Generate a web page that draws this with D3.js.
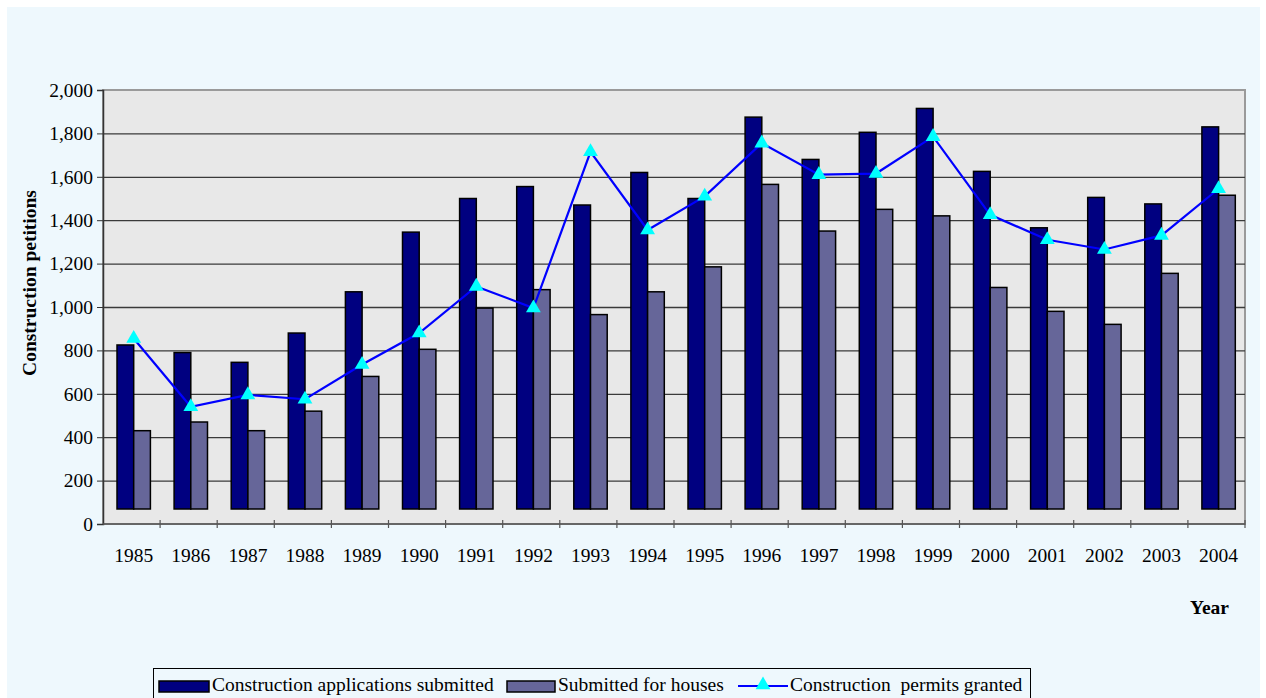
<!DOCTYPE html>
<html>
<head>
<meta charset="utf-8">
<script src="https://cdn.jsdelivr.net/npm/d3@7"></script>
<style>
  html, body { margin: 0; padding: 0; background: #ffffff; }
  svg { display: block; }
  text { font-family: "Liberation Serif", "Times New Roman", serif; fill: #000; }
</style>
</head>
<body>
<svg id="chart" width="1266" height="698"></svg>
<script>
const years = ["1985","1986","1987","1988","1989","1990","1991","1992","1993","1994",
               "1995","1996","1997","1998","1999","2000","2001","2002","2003","2004"];
const applicationsSubmitted = [825, 790, 745, 880, 1070, 1345, 1500, 1555, 1470, 1620,
                               1500, 1875, 1680, 1805, 1915, 1625, 1365, 1505, 1475, 1830];
const submittedForHouses = [430, 470, 430, 520, 680, 805, 995, 1080, 965, 1070,
                            1185, 1565, 1350, 1450, 1420, 1090, 980, 920, 1155, 1515];
const permitsGranted = [855, 540, 595, 575, 735, 880, 1095, 995, 1715, 1355,
                        1510, 1755, 1610, 1615, 1785, 1425, 1310, 1265, 1330, 1545];
const yTicks = [0, 200, 400, 600, 800, 1000, 1200, 1400, 1600, 1800, 2000];
const seriesNames = ["Construction applications submitted", "Submitted for houses", "Construction  permits granted"];

const svg = d3.select("#chart");
const W = 1266, H = 698;
const FS = "19.5px";
const plot = { left: 103, right: 1245, top: 90, bottom: 524 };
const depth = 15;      // floor depth of the 3-D style plot
const barOffset = 14;  // bar group offset inside its category

// chart background
svg.append("rect").attr("x", 7).attr("y", 7).attr("width", 1253).attr("height", H)
  .attr("fill", "#EEF8FD");

const x = d3.scaleBand().domain(years).range([plot.left, plot.right]);
const y = d3.scaleLinear().domain([0, 2000]).range([plot.bottom, plot.top]);
const barW = 16.7;
const x1 = d3.scaleBand().domain(["a","h"]).range([barOffset, barOffset + 2 * barW]);

// plot area
svg.append("rect").attr("x", plot.left).attr("y", plot.top)
  .attr("width", plot.right - plot.left).attr("height", plot.bottom - plot.top)
  .attr("fill", "#E8E8E8").attr("stroke", "#9a9a9a").attr("stroke-width", 2);

// gridlines
svg.append("g").selectAll("line").data(yTicks.filter(d => d > 0 && d < 2000)).join("line")
  .attr("x1", plot.left).attr("x2", plot.right)
  .attr("y1", d => y(d) + 0.5).attr("y2", d => y(d) + 0.5)
  .attr("stroke", "#3a3a3a").attr("stroke-width", 1.3);

// y axis
const yAxis = d3.axisLeft(y).tickValues(yTicks).tickFormat(d3.format(",")).tickSize(6).tickPadding(4);
const gy = svg.append("g").attr("transform", `translate(${plot.left},0)`).call(yAxis);
gy.select(".domain").attr("stroke", "#333").attr("stroke-width", 1.5);
gy.selectAll(".tick line").attr("stroke", "#333");
gy.selectAll("text").style("font-size", FS).style("font-family", "Liberation Serif");

// x axis (ticks between categories)
svg.append("line").attr("x1", plot.left).attr("x2", plot.right)
  .attr("y1", plot.bottom).attr("y2", plot.bottom)
  .attr("stroke", "#555").attr("stroke-width", 1.5);
svg.append("g").selectAll("line").data(years).join("line")
  .attr("x1", d => x(d) + x.bandwidth())
  .attr("x2", d => x(d) + x.bandwidth())
  .attr("y1", plot.bottom - 4).attr("y2", plot.bottom + 4)
  .attr("stroke", "#555").attr("stroke-width", 1.2);
svg.append("g").selectAll("text").data(years).join("text")
  .attr("x", d => x(d) + barOffset + barW)
  .attr("y", 562)
  .attr("text-anchor", "middle")
  .style("font-size", FS)
  .text(d => d);

// bars
const barData = years.map((yr, i) => ({ yr, a: applicationsSubmitted[i], h: submittedForHouses[i] }));
const groups = svg.append("g").selectAll("g").data(barData).join("g")
  .attr("transform", d => `translate(${x(d.yr)},0)`);
groups.append("rect")
  .attr("x", x1("a")).attr("width", x1.bandwidth())
  .attr("y", d => y(d.a)).attr("height", d => y(0) - depth - y(d.a))
  .attr("fill", "#000080").attr("stroke", "#000").attr("stroke-width", 1.5);
groups.append("rect")
  .attr("x", x1("h")).attr("width", x1.bandwidth())
  .attr("y", d => y(d.h)).attr("height", d => y(0) - depth - y(d.h))
  .attr("fill", "#666699").attr("stroke", "#000").attr("stroke-width", 1.5);

// line
const pts = years.map((yr, i) => [x(yr) + barOffset + barW, y(permitsGranted[i])]);
svg.append("path").datum(pts)
  .attr("d", d3.line())
  .attr("fill", "none").attr("stroke", "#0000FF").attr("stroke-width", 2.2);
const tri = d3.symbol(d3.symbolTriangle).size(95);
svg.append("g").selectAll("path").data(pts).join("path")
  .attr("transform", d => `translate(${d[0]},${d[1]})`)
  .attr("d", tri).attr("fill", "#00FFFF");

// axis titles
svg.append("text").attr("transform", "translate(36,283) rotate(-90)")
  .attr("text-anchor", "middle").style("font-size", FS).style("font-weight", "bold")
  .text("Construction petitions");
svg.append("text").attr("x", 1229).attr("y", 614).attr("text-anchor", "end")
  .style("font-size", FS).style("font-weight", "bold").text("Year");

// legend
const lg = svg.append("g");
lg.append("rect").attr("x", 153.5).attr("y", 668.5).attr("width", 877).attr("height", 40)
  .attr("fill", "#EEF8FD").attr("stroke", "#000").attr("stroke-width", 1);
lg.append("rect").attr("x", 159).attr("y", 681).attr("width", 50).attr("height", 11)
  .attr("fill", "#000080").attr("stroke", "#000").attr("stroke-width", 1.5);
lg.append("text").attr("x", 212).attr("y", 691).style("font-size", FS).text(seriesNames[0]);
lg.append("rect").attr("x", 507).attr("y", 681).attr("width", 48).attr("height", 11)
  .attr("fill", "#666699").attr("stroke", "#000").attr("stroke-width", 1.5);
lg.append("text").attr("x", 558).attr("y", 691).style("font-size", FS).text(seriesNames[1]);
lg.append("line").attr("x1", 738).attr("x2", 788).attr("y1", 686).attr("y2", 686)
  .attr("stroke", "#0000FF").attr("stroke-width", 2.2);
lg.append("path").attr("transform", "translate(763,685)").attr("d", tri).attr("fill", "#00FFFF");
lg.append("text").attr("x", 790).attr("y", 691).style("font-size", FS)
  .style("white-space", "pre").attr("xml:space", "preserve").text(seriesNames[2]);
</script>
</body>
</html>
